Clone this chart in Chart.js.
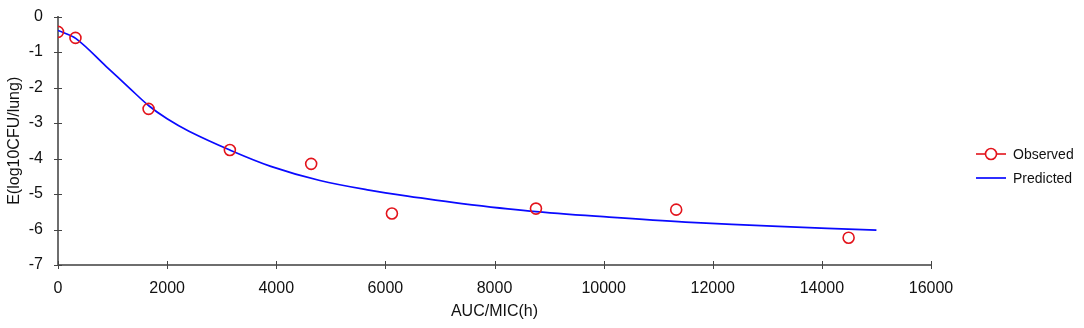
<!DOCTYPE html>
<html>
<head>
<meta charset="utf-8">
<script src="https://cdn.jsdelivr.net/npm/chart.js@4/dist/chart.umd.min.js"></script>
<style>
  html, body { margin: 0; padding: 0; background: #fff; }
  #wrap { position: relative; width: 1084px; height: 328px; }
  #legend { position: absolute; left: 976px; top: 142px; font-family: "Liberation Sans", Arial, sans-serif; font-size: 14px; color: #111; }
  .item { display: flex; align-items: center; height: 24px; }
  .item canvas { margin-right: 7px; }
</style>
</head>
<body>
<div id="wrap">
  <canvas id="c" width="1084" height="328"></canvas>
  <div id="legend"></div>
</div>
<script>
// Observed data
const obsX = [0, 320, 1660, 3150, 4640, 6120, 8760, 11330, 14490];
const obsY = [-0.43, -0.60, -2.60, -3.76, -4.15, -5.55, -5.41, -5.44, -6.23];
// Predicted curve
const predX = [0, 330, 880, 1300, 1670, 2000, 2400, 3150, 3900, 4800, 5700, 6600, 7400, 8650, 10100, 11500, 13200, 15000];
const predY = [-0.39, -0.62, -1.40, -2.00, -2.52, -2.88, -3.23, -3.76, -4.22, -4.62, -4.89, -5.10, -5.27, -5.48, -5.65, -5.79, -5.91, -6.02];
// Axis ticks
const xTicks = [0, 2000, 4000, 6000, 8000, 10000, 12000, 14000, 16000];
const yTicks = [0, -1, -2, -3, -4, -5, -6, -7];
const seriesNames = ['Observed', 'Predicted'];
const xTitle = 'AUC/MIC(h)';
const yTitle = 'E(log10CFU/lung)';

const RED = '#e3141c';
const BLUE = '#0a0aff';
const AXIS = '#6e6e6e';
const FONT = '"Liberation Sans", Arial, sans-serif';

const crossTicks = {
  id: 'crossTicks',
  afterDraw(chart) {
    const ctx = chart.ctx;
    const xs = chart.scales.x, ys = chart.scales.y;
    ctx.save();
    ctx.strokeStyle = '#444';
    ctx.lineWidth = 1;
    ctx.beginPath();
    xTicks.forEach(v => {
      const px = Math.round(xs.getPixelForValue(v)) + 0.5;
      ctx.moveTo(px, ys.bottom - 4);
      ctx.lineTo(px, ys.bottom + 4);
    });
    yTicks.forEach(v => {
      const py = Math.round(ys.getPixelForValue(v)) + 0.5;
      ctx.moveTo(xs.left - 4, py);
      ctx.lineTo(xs.left + 4, py);
    });
    ctx.stroke();
    ctx.restore();
  }
};

new Chart(document.getElementById('c'), {
  type: 'scatter',
  data: {
    datasets: [
      {
        label: seriesNames[0],
        data: obsX.map((x, i) => ({ x, y: obsY[i] })),
        showLine: false,
        pointStyle: 'circle',
        pointRadius: 5.5,
        pointBorderWidth: 1.6,
        borderColor: RED,
        backgroundColor: 'rgba(0,0,0,0)',
        order: 0
      },
      {
        label: seriesNames[1],
        data: predX.map((x, i) => ({ x, y: predY[i] })),
        showLine: true,
        pointRadius: 0,
        borderColor: BLUE,
        borderWidth: 1.7,
        tension: 0.35,
        fill: false,
        order: 1
      }
    ]
  },
  options: {
    responsive: false,
    animation: false,
    layout: { padding: { top: 14, right: 153, left: 0, bottom: 0 } },
    plugins: { legend: { display: false }, tooltip: { enabled: false } },
    scales: {
      x: {
        type: 'linear', min: 0, max: 16000,
        afterBuildTicks: s => { s.ticks = xTicks.map(v => ({ value: v })); },
        afterFit: s => { s.height = 63; },
        grid: { display: false },
        border: { display: true, color: AXIS, width: 2 },
        ticks: { color: '#111', font: { family: FONT, size: 16 }, padding: 6, maxRotation: 0, autoSkip: false,
                 callback: v => String(v) },
        title: { display: true, text: xTitle, color: '#111', font: { family: FONT, size: 16 }, padding: { top: 0, bottom: 7 } }
      },
      y: {
        type: 'linear', min: -7, max: 0,
        afterBuildTicks: s => { s.ticks = yTicks.map(v => ({ value: v })); },
        afterFit: s => { s.width = 58; },
        grid: { display: false },
        border: { display: true, color: AXIS, width: 2 },
        ticks: { color: '#111', font: { family: FONT, size: 16 }, padding: 7, autoSkip: false,
                 callback: v => String(v) },
        title: { display: true, text: yTitle, color: '#111', font: { family: FONT, size: 16 }, padding: { top: 5, bottom: 0 } }
      }
    }
  },
  plugins: [crossTicks]
});

// Legend
const legend = document.getElementById('legend');
[[seriesNames[0], RED, true], [seriesNames[1], BLUE, false]].forEach(([name, col, marker]) => {
  const item = document.createElement('div');
  item.className = 'item';
  const cv = document.createElement('canvas');
  cv.width = 30; cv.height = 14;
  const g = cv.getContext('2d');
  g.strokeStyle = col; g.lineWidth = marker ? 1.6 : 1.7;
  g.beginPath(); g.moveTo(0, 7); g.lineTo(30, 7); g.stroke();
  if (marker) {
    g.fillStyle = '#fff';
    g.beginPath(); g.arc(15, 7, 5.5, 0, Math.PI * 2); g.fill(); g.stroke();
  }
  item.appendChild(cv);
  const t = document.createElement('span');
  t.textContent = name;
  item.appendChild(t);
  legend.appendChild(item);
});
</script>
</body>
</html>
